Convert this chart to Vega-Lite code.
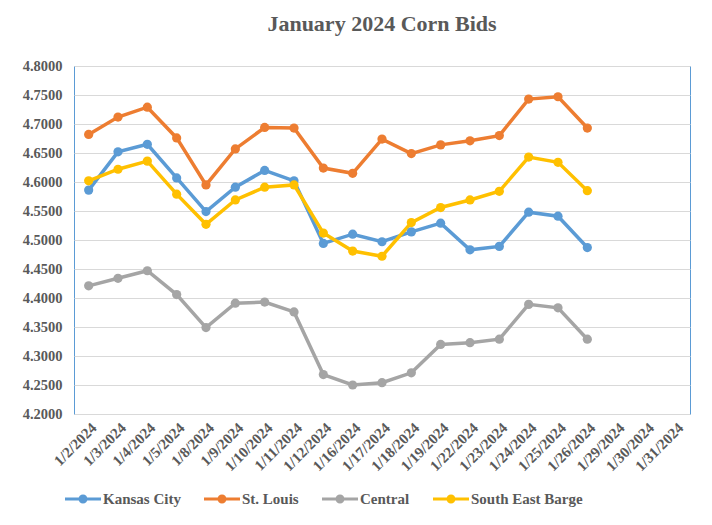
{
  "$schema": "https://vega.github.io/schema/vega-lite/v6.json",
  "width": 616,
  "height": 348,
  "autosize": {"type": "none"},
  "padding": {"left": 74, "top": 66, "right": 22, "bottom": 111},
  "background": "white",
  "title": {
    "text": "January 2024 Corn Bids",
    "font": "Liberation Serif",
    "fontSize": 22,
    "fontWeight": "bold",
    "color": "#595959",
    "anchor": "middle",
    "offset": 22
  },
  "config": {
    "font": "Liberation Serif",
    "view": {"stroke": "#5B9BD5", "strokeWidth": 1},
    "axis": {
      "labelFont": "Liberation Serif",
      "labelFontWeight": "bold",
      "labelColor": "#595959",
      "titleFont": "Liberation Serif"
    },
    "legend": {
      "labelFont": "Liberation Serif",
      "labelFontWeight": "bold",
      "labelColor": "#595959"
    }
  },
  "data": {
    "values": [
      {"date": "1/2/2024", "series": "Kansas City", "value": 4.586},
      {"date": "1/3/2024", "series": "Kansas City", "value": 4.652},
      {"date": "1/4/2024", "series": "Kansas City", "value": 4.665},
      {"date": "1/5/2024", "series": "Kansas City", "value": 4.607},
      {"date": "1/8/2024", "series": "Kansas City", "value": 4.549},
      {"date": "1/9/2024", "series": "Kansas City", "value": 4.591},
      {"date": "1/10/2024", "series": "Kansas City", "value": 4.620},
      {"date": "1/11/2024", "series": "Kansas City", "value": 4.602},
      {"date": "1/12/2024", "series": "Kansas City", "value": 4.494},
      {"date": "1/16/2024", "series": "Kansas City", "value": 4.510},
      {"date": "1/17/2024", "series": "Kansas City", "value": 4.497},
      {"date": "1/18/2024", "series": "Kansas City", "value": 4.514},
      {"date": "1/19/2024", "series": "Kansas City", "value": 4.529},
      {"date": "1/22/2024", "series": "Kansas City", "value": 4.483},
      {"date": "1/23/2024", "series": "Kansas City", "value": 4.489},
      {"date": "1/24/2024", "series": "Kansas City", "value": 4.548},
      {"date": "1/25/2024", "series": "Kansas City", "value": 4.541},
      {"date": "1/26/2024", "series": "Kansas City", "value": 4.487},
      {"date": "1/2/2024", "series": "St. Louis", "value": 4.682},
      {"date": "1/3/2024", "series": "St. Louis", "value": 4.712},
      {"date": "1/4/2024", "series": "St. Louis", "value": 4.729},
      {"date": "1/5/2024", "series": "St. Louis", "value": 4.676},
      {"date": "1/8/2024", "series": "St. Louis", "value": 4.595},
      {"date": "1/9/2024", "series": "St. Louis", "value": 4.657},
      {"date": "1/10/2024", "series": "St. Louis", "value": 4.694},
      {"date": "1/11/2024", "series": "St. Louis", "value": 4.693},
      {"date": "1/12/2024", "series": "St. Louis", "value": 4.624},
      {"date": "1/16/2024", "series": "St. Louis", "value": 4.615},
      {"date": "1/17/2024", "series": "St. Louis", "value": 4.674},
      {"date": "1/18/2024", "series": "St. Louis", "value": 4.649},
      {"date": "1/19/2024", "series": "St. Louis", "value": 4.664},
      {"date": "1/22/2024", "series": "St. Louis", "value": 4.671},
      {"date": "1/23/2024", "series": "St. Louis", "value": 4.680},
      {"date": "1/24/2024", "series": "St. Louis", "value": 4.743},
      {"date": "1/25/2024", "series": "St. Louis", "value": 4.747},
      {"date": "1/26/2024", "series": "St. Louis", "value": 4.693},
      {"date": "1/2/2024", "series": "Central", "value": 4.421},
      {"date": "1/3/2024", "series": "Central", "value": 4.434},
      {"date": "1/4/2024", "series": "Central", "value": 4.447},
      {"date": "1/5/2024", "series": "Central", "value": 4.406},
      {"date": "1/8/2024", "series": "Central", "value": 4.349},
      {"date": "1/9/2024", "series": "Central", "value": 4.391},
      {"date": "1/10/2024", "series": "Central", "value": 4.393},
      {"date": "1/11/2024", "series": "Central", "value": 4.376},
      {"date": "1/12/2024", "series": "Central", "value": 4.268},
      {"date": "1/16/2024", "series": "Central", "value": 4.250},
      {"date": "1/17/2024", "series": "Central", "value": 4.254},
      {"date": "1/18/2024", "series": "Central", "value": 4.271},
      {"date": "1/19/2024", "series": "Central", "value": 4.320},
      {"date": "1/22/2024", "series": "Central", "value": 4.323},
      {"date": "1/23/2024", "series": "Central", "value": 4.329},
      {"date": "1/24/2024", "series": "Central", "value": 4.389},
      {"date": "1/25/2024", "series": "Central", "value": 4.383},
      {"date": "1/26/2024", "series": "Central", "value": 4.329},
      {"date": "1/2/2024", "series": "South East Barge", "value": 4.602},
      {"date": "1/3/2024", "series": "South East Barge", "value": 4.622},
      {"date": "1/4/2024", "series": "South East Barge", "value": 4.636},
      {"date": "1/5/2024", "series": "South East Barge", "value": 4.579},
      {"date": "1/8/2024", "series": "South East Barge", "value": 4.527},
      {"date": "1/9/2024", "series": "South East Barge", "value": 4.569},
      {"date": "1/10/2024", "series": "South East Barge", "value": 4.591},
      {"date": "1/11/2024", "series": "South East Barge", "value": 4.595},
      {"date": "1/12/2024", "series": "South East Barge", "value": 4.512},
      {"date": "1/16/2024", "series": "South East Barge", "value": 4.481},
      {"date": "1/17/2024", "series": "South East Barge", "value": 4.472},
      {"date": "1/18/2024", "series": "South East Barge", "value": 4.530},
      {"date": "1/19/2024", "series": "South East Barge", "value": 4.556},
      {"date": "1/22/2024", "series": "South East Barge", "value": 4.569},
      {"date": "1/23/2024", "series": "South East Barge", "value": 4.584},
      {"date": "1/24/2024", "series": "South East Barge", "value": 4.643},
      {"date": "1/25/2024", "series": "South East Barge", "value": 4.634},
      {"date": "1/26/2024", "series": "South East Barge", "value": 4.585}
    ]
  },
  "encoding": {
    "x": {
      "field": "date",
      "type": "ordinal",
      "scale": {
        "domain": ["1/2/2024", "1/3/2024", "1/4/2024", "1/5/2024", "1/8/2024", "1/9/2024", "1/10/2024", "1/11/2024", "1/12/2024", "1/16/2024", "1/17/2024", "1/18/2024", "1/19/2024", "1/22/2024", "1/23/2024", "1/24/2024", "1/25/2024", "1/26/2024", "1/29/2024", "1/30/2024", "1/31/2024"],
        "padding": 0.5
      },
      "axis": {
        "title": null,
        "labelAngle": -45,
        "labelFont": "Liberation Serif",
        "labelFontWeight": "bold",
        "labelFontSize": 15,
        "ticks": false,
        "domain": false,
        "grid": false,
        "labelPadding": 6
      }
    },
    "y": {
      "field": "value",
      "type": "quantitative",
      "scale": {"domain": [4.2, 4.8], "nice": false, "zero": false},
      "axis": {
        "title": null,
        "values": [4.2, 4.25, 4.3, 4.35, 4.4, 4.45, 4.5, 4.55, 4.6, 4.65, 4.7, 4.75, 4.8],
        "format": ".4f",
        "labelFont": "Liberation Serif",
        "labelFontWeight": "bold",
        "labelFontSize": 14.5,
        "ticks": false,
        "domain": false,
        "gridColor": "#D9D9D9",
        "gridWidth": 1.2,
        "labelPadding": 12
      }
    },
    "color": {
      "field": "series",
      "type": "nominal",
      "scale": {
        "domain": ["Kansas City", "St. Louis", "Central", "South East Barge"],
        "range": ["#5B9BD5", "#ED7D31", "#A5A5A5", "#FFC000"]
      },
      "legend": {
        "title": null,
        "orient": "none",
        "direction": "horizontal",
        "legendX": -9,
        "legendY": 415,
        "labelFont": "Liberation Serif",
        "labelFontWeight": "bold",
        "labelFontSize": 15,
        "symbolType": "M-1,-0.09L1,-0.09L1,0.09L-1,0.09Z M0.25,0 A0.25,0.25 0 1 1 -0.25,0 A0.25,0.25 0 1 1 0.25,0 Z",
        "symbolSize": 1296,
        "symbolStrokeWidth": 0,
        "columnPadding": 23,
        "labelOffset": 2
      }
    }
  },
  "layer": [
    {"mark": {"type": "line", "strokeWidth": 3.5}},
    {"mark": {"type": "point", "filled": true, "size": 85, "opacity": 1}}
  ]
}
